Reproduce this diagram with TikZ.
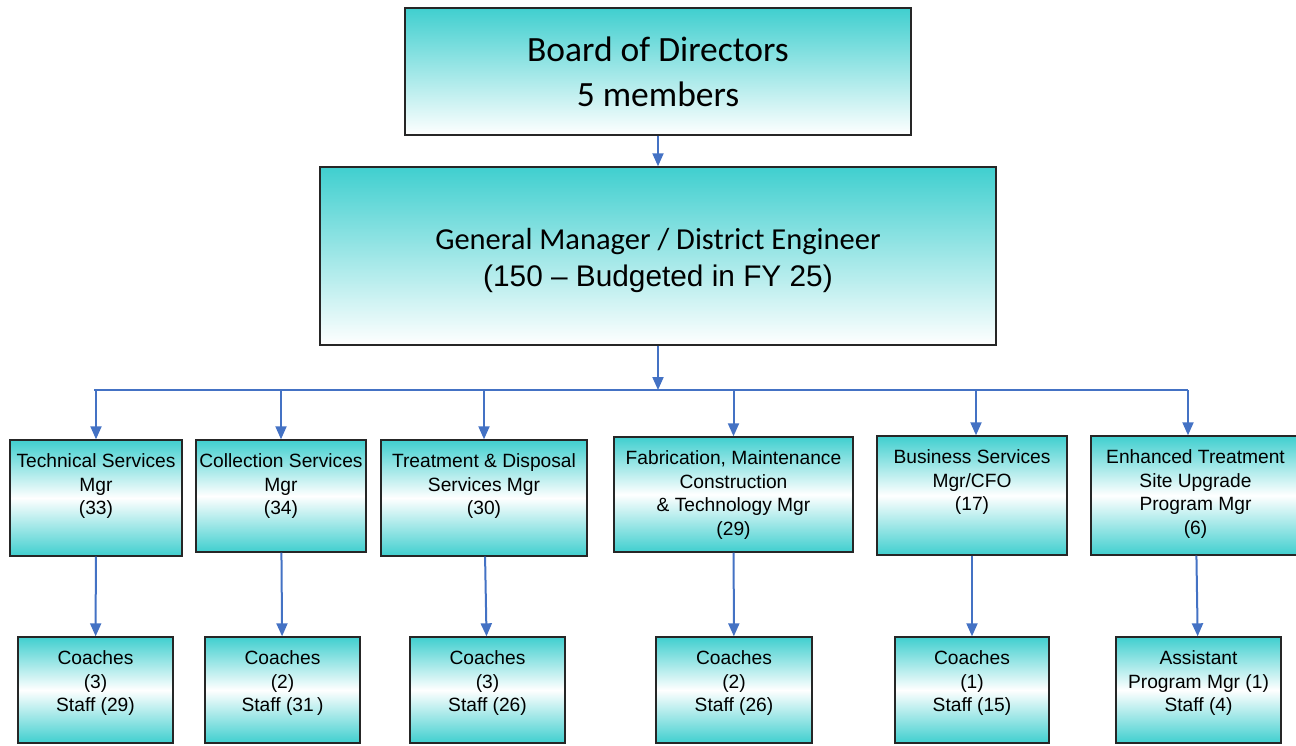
\documentclass[tikz,border=0pt]{standalone}
\usepackage{fontspec}
\setmainfont{Liberation Sans}
\newfontfamily\calibri{Carlito}
\usetikzlibrary{arrows.meta}

\definecolor{boxteal}{RGB}{64,207,207}
\definecolor{linkblue}{RGB}{68,114,196}

% text of a unit box, set from the top of a fixed-size box
\newcommand{\boxlines}[3]{\parbox[c][#2][t]{#1}{\centering\rule{0pt}{27.5pt}#3}}

\begin{document}
\begin{tikzpicture}[x=1pt, y=-1pt,
  head/.style={draw=black!85, line width=1.4pt, inner sep=0pt, align=center,
    top color=boxteal, bottom color=white},
  unit/.style={draw=black!85, line width=1.4pt, inner sep=0pt,
    top color=boxteal, bottom color=boxteal, middle color=white,
    font=\fontsize{19.2}{23.5}\selectfont},
  link/.style={draw=linkblue, line width=2pt, -{Triangle[length=13pt,width=11pt]}},
  bus/.style={draw=linkblue, line width=2.2pt}]
\useasboundingbox (0,0) rectangle (1296,745);

\node[head, minimum width=506, minimum height=127, font=\calibri\fontsize{35.5}{45}\selectfont] (board) at (658,71.5) {Board of Directors\\5 members};
\node[head, minimum width=676, minimum height=178, font=\fontsize{29.8}{37}\selectfont] (gm) at (658,256) {{\calibri\fontsize{30.5}{37}\selectfont\rule{0pt}{31pt}General Manager / District Engineer}\\(150 -- Budgeted in FY 25)};

% managers
\node[unit] (tech) at (96,498) {\boxlines{172pt}{116pt}{Technical Services\\Mgr\\(33)}};
\node[unit] (coll) at (281,496) {\boxlines{170pt}{112pt}{Collection Services\\Mgr\\(34)}};
\node[unit] (treat) at (484,498) {\boxlines{206pt}{116pt}{Treatment \& Disposal\\Services Mgr\\(30)}};
\node[unit] (fab) at (733.5,494.5) {\boxlines{239pt}{115pt}{Fabrication, Maintenance\\Construction\\\& Technology Mgr\\(29)}};
\node[unit] (biz) at (972,495.5) {\boxlines{190pt}{119pt}{Business Services\\Mgr/CFO\\(17)}};
\node[unit] (ets) at (1195.5,495.5) {\boxlines{209pt}{119pt}{Enhanced Treatment\\Site Upgrade\\Program Mgr\\(6)}};

% coaches and staff
\node[unit] (techc) at (95.5,690) {\boxlines{155pt}{106pt}{Coaches\\(3)\\Staff (29)}};
\node[unit] (collc) at (282.5,690) {\boxlines{155pt}{106pt}{Coaches\\(2)\\Staff (31\,)}};
\node[unit] (treatc) at (487.5,690) {\boxlines{155pt}{106pt}{Coaches\\(3)\\Staff (26)}};
\node[unit] (fabc) at (734,690) {\boxlines{156pt}{106pt}{Coaches\\(2)\\Staff (26)}};
\node[unit] (bizc) at (972,690) {\boxlines{154pt}{106pt}{Coaches\\(1)\\Staff (15)}};
\node[unit] (etsc) at (1198.5,690) {\boxlines{165pt}{106pt}{Assistant\\Program Mgr (1)\\Staff (4)}};

\draw (board) edge[link] (gm);

\coordinate (busl) at (94,390);
\coordinate (busr) at (1188,390);
\draw[bus] (busl) -- (busr);
\draw[link] (gm.south) -- (gm.south |- busl);
\draw[link] (tech.north |- busl) -- (tech.north);
\draw[link] (coll.north |- busl) -- (coll.north);
\draw[link] (treat.north |- busl) -- (treat.north);
\draw[link] (fab.north |- busl) -- (fab.north);
\draw[link] ([xshift=4pt]biz.north |- busl) -- ([xshift=4pt]biz.north);
\draw[link] (busr) -- (busr |- ets.north);

\draw (tech) edge[link] (techc) (coll) edge[link] (collc) (treat) edge[link] (treatc);
\draw (fab) edge[link] (fabc) (biz) edge[link] (bizc) (ets) edge[link] (etsc);
\end{tikzpicture}
\end{document}
